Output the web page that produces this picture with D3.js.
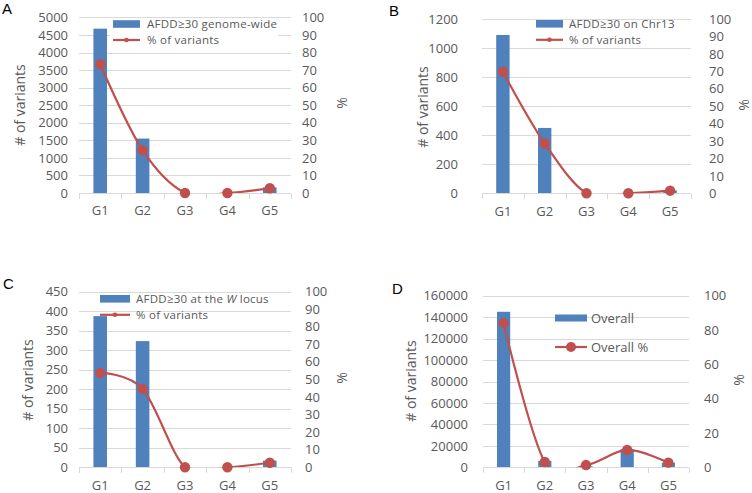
<!DOCTYPE html>
<html>
<head>
<meta charset="utf-8">
<script src="https://cdn.jsdelivr.net/npm/d3@7"></script>
<style>
  html, body { margin: 0; padding: 0; background: #fff; }
  svg { display: block; }
  text { font-family: "Open Sans", "Noto Sans", sans-serif; }
</style>
</head>
<body>
<svg id="chart" width="752" height="493"></svg>
<script>
// ---------------- DATA ----------------
const categories = ["G1", "G2", "G3", "G4", "G5"];

const countsA  = [4680, 1550, 0, 0, 160];
const percentA = [73.3, 24.4, 0, 0, 2.7];

const countsB  = [1090, 450, 0, 0, 20];
const percentB = [69.7, 28.6, 0, 0, 1.5];

const countsC  = [387, 323, 0, 0, 17];
const percentC = [53.7, 44.6, 0, 0, 2.6];

const countsD  = [145000, 6000, 1000, 17000, 4300];
const percentD = [84.0, 3.1, 1.3, 10.1, 2.7];

const leftTicksA = [0, 500, 1000, 1500, 2000, 2500, 3000, 3500, 4000, 4500, 5000];
const leftTicksB = [0, 200, 400, 600, 800, 1000, 1200];
const leftTicksC = [0, 50, 100, 150, 200, 250, 300, 350, 400, 450];
const leftTicksD = [0, 20000, 40000, 60000, 80000, 100000, 120000, 140000, 160000];
const pctTicks10 = [0, 10, 20, 30, 40, 50, 60, 70, 80, 90, 100];
const pctTicks20 = [0, 20, 40, 60, 80, 100];

const legendBarA = "AFDD≥30 genome-wide";
const legendBarB = "AFDD≥30 on Chr13";
const legendBarC = ["AFDD≥30 at the ", "W", " locus"];
const legendBarD = "Overall";
const legendLineABC = "% of variants";
const legendLineD = "Overall %";

// ---------------- STYLE ----------------
const BAR = "#4F81BD", LINE = "#C0504D", GRID = "#D9D9D9", TXT = "#595959";

const svg = d3.select("#chart");

const panels = [
  { id: "A", counts: countsA, pct: percentA, lt: leftTicksA, rt: pctTicks10,
    x0: 79, x1: 291, yTop: 17.4, yBase: 193, lGap: 11, rGap: 11,
    titleX: 20, titleY: 105, pctX: 342, pctY: 103, letterX: 2, letterY: 14,
    leg: { x: 113, y1: 24, y2: 40, w: 27, h: 7.6, tx: 147, fs: 11.5, ls: 0.25, dotR: 2.3, bg: { x: 110, y: 19, w: 168, h: 29 }, label: legendBarA, label2: legendLineABC } },
  { id: "B", counts: countsB, pct: percentB, lt: leftTicksB, rt: pctTicks10,
    x0: 482, x1: 691, yTop: 19, yBase: 193.3, lGap: 24, rGap: 18,
    titleX: 423, titleY: 107, pctX: 744, pctY: 105, letterX: 389, letterY: 16,
    leg: { x: 536, y1: 23.8, y2: 39.8, w: 27, h: 7.6, tx: 569, fs: 11.5, ls: 0.25, dotR: 2.3, bg: null, label: legendBarB, label2: legendLineABC } },
  { id: "C", counts: countsC, pct: percentC, lt: leftTicksC, rt: pctTicks10,
    x0: 79, x1: 291, yTop: 291.5, yBase: 467.3, lGap: 11, rGap: 14,
    titleX: 28, titleY: 380, pctX: 342, pctY: 378, letterX: 3, letterY: 289,
    leg: { x: 100, y1: 298.8, y2: 314.8, w: 30, h: 7.6, tx: 136, fs: 11.5, ls: 0.25, dotR: 2.3, bg: null, label: legendBarC, label2: legendLineABC } },
  { id: "D", counts: countsD, pct: percentD, lt: leftTicksD, rt: pctTicks20,
    x0: 483, x1: 689, yTop: 295.7, yBase: 467.3, lGap: 15, rGap: 15,
    titleX: 411, titleY: 381, pctX: 739, pctY: 380, letterX: 392, letterY: 294,
    leg: { x: 555, y1: 318, y2: 347, w: 32, h: 7, tx: 591, fs: 13, ls: 0, dotR: 5, bg: null, label: legendBarD, label2: legendLineD } }
];

panels.forEach(drawPanel);

function drawPanel(p) {
  const g = svg.append("g");
  const x = d3.scaleBand().domain(categories).range([p.x0, p.x1])
    .paddingInner(0.68).paddingOuter(0.34);
  const yL = d3.scaleLinear().domain([p.lt[0], p.lt[p.lt.length - 1]]).range([p.yBase, p.yTop]);
  const yR = d3.scaleLinear().domain([0, 100]).range([p.yBase, p.yTop]);
  const xb = d3.scaleLinear().domain([0, categories.length]).range([p.x0, p.x1]);

  // gridlines
  g.append("g").selectAll("line").data(p.lt.slice(1)).join("line")
    .attr("x1", p.x0).attr("x2", p.x1)
    .attr("y1", d => Math.round(yL(d)) + 0.5).attr("y2", d => Math.round(yL(d)) + 0.5)
    .attr("stroke", GRID).attr("stroke-width", 1);

  // legend background (hides gridline)
  if (p.leg.bg) {
    g.append("rect").attr("x", p.leg.bg.x).attr("y", p.leg.bg.y)
      .attr("width", p.leg.bg.w).attr("height", p.leg.bg.h).attr("fill", "#fff");
  }

  // bars
  g.append("g").selectAll("rect").data(categories).join("rect")
    .attr("x", d => x(d)).attr("width", x.bandwidth())
    .attr("y", (d, i) => yL(p.counts[i]))
    .attr("height", (d, i) => p.yBase - yL(p.counts[i]))
    .attr("fill", BAR);

  // bottom axis line + boundary ticks
  const by = Math.round(p.yBase) + 0.5;
  g.append("line").attr("x1", p.x0).attr("x2", p.x1).attr("y1", by).attr("y2", by)
    .attr("stroke", GRID).attr("stroke-width", 1);
  g.append("g").selectAll("line").data(d3.range(categories.length + 1)).join("line")
    .attr("x1", d => Math.round(xb(d)) + 0.5).attr("x2", d => Math.round(xb(d)) + 0.5)
    .attr("y1", by).attr("y2", by + 5.5)
    .attr("stroke", GRID).attr("stroke-width", 1);

  // clipped smooth line
  const clipId = "clip" + p.id;
  svg.append("clipPath").attr("id", clipId).append("rect")
    .attr("x", p.x0 - 20).attr("y", p.yTop - 20).attr("width", p.x1 - p.x0 + 40).attr("height", p.yBase - p.yTop + 20);
  const line = d3.line()
    .x((d, i) => x(categories[i]) + x.bandwidth() / 2)
    .y(d => yR(d))
    .curve(d3.curveCatmullRom.alpha(0));
  g.append("path").datum(p.pct).attr("d", line)
    .attr("fill", "none").attr("stroke", LINE).attr("stroke-width", 2.2)
    .attr("clip-path", `url(#${clipId})`);
  g.append("g").selectAll("circle").data(p.pct).join("circle")
    .attr("cx", (d, i) => x(categories[i]) + x.bandwidth() / 2)
    .attr("cy", d => yR(d)).attr("r", 5.2)
    .attr("fill", LINE);

  // axes
  const axL = g.append("g").attr("transform", `translate(${p.x0},0)`)
    .call(d3.axisLeft(yL).tickValues(p.lt).tickSize(0).tickPadding(p.lGap).tickFormat(d3.format("d")));
  const axR = g.append("g").attr("transform", `translate(${p.x1},0)`)
    .call(d3.axisRight(yR).tickValues(p.rt).tickSize(0).tickPadding(p.rGap).tickFormat(d3.format("d")));
  const axB = g.append("g").attr("transform", `translate(0,${p.yBase})`)
    .call(d3.axisBottom(x).tickSize(0).tickPadding(13));
  [axL, axR, axB].forEach(a => {
    a.select(".domain").remove();
    a.selectAll("text").attr("fill", TXT).style("font-size", "13px")
      .style("font-family", "'Open Sans', sans-serif");
  });
  axR.selectAll("text").attr("text-anchor", "start");

  // axis titles
  g.append("text").attr("transform", `translate(${p.titleX},${p.titleY}) rotate(-90)`)
    .attr("text-anchor", "middle").attr("dy", "0.35em")
    .attr("fill", TXT).style("font-size", "14px").text("# of variants");
  g.append("text").attr("transform", `translate(${p.pctX},${p.pctY}) rotate(-90)`)
    .attr("text-anchor", "middle").attr("dy", "0.35em")
    .attr("fill", TXT).style("font-size", "14px").text("%");

  // panel letter
  g.append("text").attr("x", p.letterX).attr("y", p.letterY)
    .attr("fill", "#000").style("font-size", "15px")
    .style("font-family", "'Liberation Sans', Arial, sans-serif").text(p.id);

  // legend
  const L = p.leg;
  g.append("rect").attr("x", L.x).attr("y", L.y1 - L.h / 2).attr("width", L.w).attr("height", L.h)
    .attr("fill", BAR);
  const t1 = g.append("text").attr("x", L.tx).attr("y", L.y1).attr("dy", "0.35em")
    .attr("fill", TXT).style("font-size", L.fs + "px").style("letter-spacing", L.ls + "px");
  if (Array.isArray(L.label)) {
    t1.append("tspan").text(L.label[0]);
    t1.append("tspan").style("font-style", "italic").text(L.label[1]);
    t1.append("tspan").text(L.label[2]);
  } else {
    t1.text(L.label);
  }
  g.append("line").attr("x1", L.x).attr("x2", L.x + L.w).attr("y1", L.y2).attr("y2", L.y2)
    .attr("stroke", LINE).attr("stroke-width", 2.2);
  g.append("circle").attr("cx", L.x + L.w / 2).attr("cy", L.y2).attr("r", L.dotR).attr("fill", LINE);
  g.append("text").attr("x", L.tx).attr("y", L.y2).attr("dy", "0.35em")
    .attr("fill", TXT).style("font-size", L.fs + "px").style("letter-spacing", L.ls + "px").text(L.label2);
}
</script>
</body>
</html>
